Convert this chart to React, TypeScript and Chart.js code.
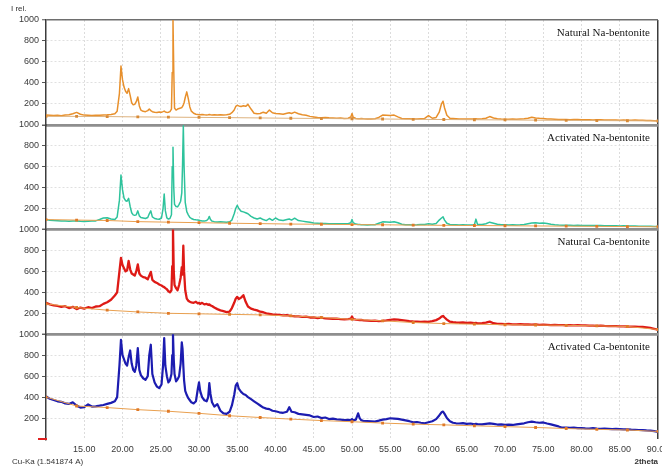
import { useEffect, useRef } from 'react';
import { Chart, registerables } from 'chart.js';

Chart.register(...registerables);

// 2θ positions (degrees) shared by all four diffractograms
const TWO_THETA = [
  10, 10.5, 11, 11.5, 12, 12.5, 13, 13.5, 14, 14.5,
  15, 15.5, 16, 16.5, 17, 17.5, 18, 18.5, 19, 19.3,
  19.6, 19.8, 20.0, 20.2, 20.4, 20.6, 20.8, 21.0, 21.2, 21.4,
  21.6, 21.8, 22.0, 22.2, 22.4, 22.7, 23.0, 23.3, 23.5, 23.7,
  23.9, 24.2, 24.5, 24.8, 25.1, 25.3, 25.45, 25.6, 25.8, 26.0,
  26.2, 26.4, 26.5, 26.6, 26.7, 26.8, 27.0, 27.2, 27.4, 27.6,
  27.75, 27.85, 27.95, 28.05, 28.2, 28.4, 28.6, 28.8, 29.0, 29.3,
  29.6, 29.85, 30.0, 30.15, 30.4, 30.7, 31.0, 31.2, 31.35, 31.5,
  31.7, 32.0, 32.4, 32.8, 33.2, 33.6, 34.0, 34.3, 34.6, 34.8,
  35.0, 35.2, 35.5, 35.8, 36.1, 36.4, 36.8, 37.2, 37.6, 38.0,
  38.4, 38.8, 39.2, 39.6, 40.0, 40.5, 41.0, 41.5, 41.8, 42.1,
  42.5, 43.0, 43.5, 44.0, 44.5, 45.0, 45.5, 46.0, 46.5, 47.0,
  47.5, 48.0, 48.5, 49.0, 49.5, 49.85, 50.0, 50.15, 50.5, 50.8,
  51.0, 51.2, 51.5, 52.0, 52.5, 53.0, 53.5, 54.0, 54.5, 55.0,
  55.5, 56.0, 56.5, 57.0, 57.5, 58.0, 58.5, 59.0, 59.5, 60.0,
  60.5, 61.0, 61.4, 61.7, 61.9, 62.1, 62.4, 62.8, 63.2, 63.6,
  64.0, 64.5, 65.0, 65.5, 66.0, 66.2, 66.4, 67.0, 67.5, 68.0,
  68.5, 69.0, 69.5, 70.0, 70.5, 71.0, 71.5, 72.0, 72.5, 73.0,
  73.5, 74.0, 74.5, 75.0, 75.5, 76.0, 76.5, 77.0, 77.5, 78.0,
  78.5, 79.0, 79.5, 80.0, 80.5, 81.0, 81.5, 82.0, 82.5, 83.0,
  83.5, 84.0, 84.5, 85.0, 85.5, 86.0, 86.5, 87.0, 87.5, 88.0,
  88.5, 89.0, 89.5, 90.0,
];

// Relative intensities (I rel.) at each 2θ position
const NA_NATURAL = [
  92, 90, 88, 90, 87, 92, 95, 105, 118, 100,
  92, 90, 88, 91, 90, 93, 95, 98, 105, 130,
  300, 560, 430, 360, 320, 300, 345, 280, 210, 190,
  195, 220, 265, 180, 140, 128, 125, 135, 150, 135,
  125, 120, 118, 122, 120, 125, 130, 122, 118, 120,
  125, 150, 500, 1000, 520, 160, 140, 150, 155, 160,
  165, 175, 190, 210, 260, 314, 250, 170, 130, 110,
  100, 98, 96, 95, 97, 95, 94, 96, 98, 95,
  94, 95, 92, 96, 94, 96, 100, 115, 140, 175,
  185, 180, 175, 182, 176, 195, 150, 110, 105, 108,
  120, 110, 140, 115, 108, 105, 100, 110, 115, 108,
  120, 105, 95, 90, 80, 75, 70, 68, 70, 66,
  65, 62, 64, 60, 62, 75, 107, 72, 60, 58,
  58, 60, 57, 56, 55, 58, 70, 92, 90, 88,
  92, 75, 60, 58, 57, 55, 56, 58, 60, 88,
  62, 70, 120, 200, 225, 160, 90, 62, 60, 58,
  56, 55, 54, 56, 55, 57, 55, 58, 62, 78,
  65, 58, 55, 53, 52, 54, 52, 55, 58, 62,
  72, 65, 62, 60, 56, 54, 52, 50, 50, 49,
  48, 50, 49, 48, 47, 48, 46, 47, 48, 46,
  45, 46, 45, 44, 45, 43, 44, 45, 42, 42,
  41, 40, 38, 36,
];

const NA_ACTIVATED = [
  95, 88, 85, 84, 82, 80, 78, 80, 82, 78,
  76, 78, 80, 82, 95, 110, 112, 100, 95, 120,
  280, 520, 380, 300, 275, 270, 297, 220, 160, 140,
  135, 140, 178, 130, 115, 110, 105, 115, 150, 178,
  120, 105, 100, 98, 110, 200, 338, 180, 110, 100,
  105, 140, 600, 785, 400, 240, 220, 216, 240, 270,
  350, 620, 990, 600, 260, 170, 140, 115, 105, 95,
  92, 90, 88, 85, 82, 80, 85, 100, 125, 95,
  80, 75, 72, 74, 72, 70, 74, 90, 150, 200,
  232, 200, 175, 168, 160, 150, 125, 110, 100, 110,
  95, 85, 105, 88, 110, 90, 85, 95, 100, 90,
  108, 85, 80, 75, 70, 62, 60, 58, 57, 56,
  55, 56, 55, 54, 56, 65, 96, 65, 52, 48,
  47, 46, 45, 44, 45, 46, 60, 73, 72, 70,
  74, 65, 50, 46, 45, 44, 45, 47, 48, 55,
  50, 58, 90, 110, 121, 90, 60, 48, 46, 45,
  44, 45, 43, 44, 46, 99, 50, 48, 55, 70,
  60, 50, 46, 45, 44, 46, 44, 45, 48, 55,
  62, 64, 60, 62, 58, 50, 45, 42, 41, 40,
  40, 39, 40, 38, 39, 38, 37, 38, 37, 36,
  36, 35, 36, 34, 35, 34, 33, 34, 32, 32,
  31, 30, 29, 28,
];

const CA_NATURAL = [
  300, 285, 275, 270, 262, 268, 250, 262, 240, 255,
  245, 258, 250, 265, 268, 290, 305, 330, 370, 400,
  600, 730, 660, 630, 600, 610, 700, 620, 580, 570,
  560, 600, 667, 580, 560, 545, 540, 525, 560, 596,
  520, 500, 490, 475, 465, 455, 450, 440, 430, 410,
  400, 420, 650, 1000, 600, 470, 440, 420, 470, 540,
  640, 570, 845, 600, 420, 340, 320, 310, 305, 300,
  310, 295, 300, 290, 300, 285, 290, 280, 285, 275,
  270, 255, 240, 228, 220, 212, 215, 250, 300, 340,
  357, 335, 350, 373, 310, 265, 245, 235, 228, 215,
  210, 200, 195, 190, 188, 185, 180, 182, 178, 175,
  172, 170, 165, 168, 160, 162, 155, 158, 152, 150,
  148, 150, 145, 142, 145, 148, 170, 145, 140, 138,
  136, 138, 132, 130, 128, 130, 126, 128, 132, 138,
  142, 140, 135, 130, 125, 122, 120, 118, 120, 118,
  125, 135, 150, 168, 175, 160, 140, 120, 115, 112,
  110, 112, 108, 110, 105, 108, 104, 106, 110, 120,
  105, 100, 98, 96, 98, 95, 94, 96, 93, 95,
  92, 94, 90, 92, 90, 88, 90, 87, 88, 86,
  86, 85, 87, 84, 85, 82, 83, 80, 81, 79,
  78, 77, 78, 75, 76, 74, 73, 72, 71, 70,
  66, 60, 52, 44,
];

const CA_ACTIVATED = [
  405, 385, 372, 360, 355, 340, 335, 350, 320, 300,
  305, 330, 310, 312, 318, 325, 335, 345, 360, 400,
  700, 947, 800, 760, 720, 700, 780, 845, 720, 660,
  640, 700, 868, 660, 610, 580, 565, 600, 800, 900,
  620, 540, 500, 485, 520, 700, 964, 700, 600, 540,
  560, 620, 800, 1000, 760, 620, 550, 570, 600, 720,
  922, 860, 700, 560, 460, 420, 390, 370, 350, 340,
  360, 480, 540, 460, 400, 370, 360, 400, 533, 430,
  350, 310, 333, 270, 245, 240, 260, 320, 420, 510,
  533, 480, 450, 430, 420, 400, 380, 360, 340, 320,
  300, 290, 285, 270, 265, 255, 250, 260, 303, 260,
  255, 240, 235, 230, 225, 210, 215, 200, 205, 190,
  195, 188, 185, 180, 182, 180, 190, 178, 185, 245,
  200, 180, 172, 170, 168, 166, 175, 185, 190, 198,
  195, 192, 185, 178, 170, 160, 162, 155, 150, 160,
  170, 190, 225, 255, 262, 240, 200, 170, 155, 150,
  148, 152, 144, 148, 140, 145, 142, 140, 145, 150,
  145, 138, 140, 135, 138, 134, 140, 145, 150, 160,
  166, 160, 155, 158, 148, 140, 130, 120, 108, 110,
  106, 108, 104, 105, 102, 100, 104, 100, 98, 99,
  97, 95, 96, 94, 92, 93, 90, 88, 86, 85,
  82, 80, 75, 68,
];

// Fitted background: anchor points every 4° of 2θ
const BACKGROUND_2THETA = [10, 14, 18, 22, 26, 30, 34, 38, 42, 46, 50, 54, 58, 62, 66, 70, 74, 78, 82, 86, 90];
const NA_NATURAL_BG = [80, 80, 78, 75, 73, 70, 68, 65, 62, 60, 57, 55, 52, 50, 48, 46, 44, 42, 40, 38, 36];
const NA_ACTIVATED_BG = [95, 90, 86, 75, 70, 65, 60, 56, 52, 50, 47, 45, 42, 40, 38, 36, 34, 32, 30, 28, 26];
const CA_NATURAL_BG = [290, 255, 230, 213, 200, 195, 190, 185, 175, 160, 142, 128, 112, 102, 96, 91, 88, 85, 80, 74, 45];
const CA_ACTIVATED_BG = [400, 315, 300, 280, 265, 245, 222, 205, 190, 176, 165, 152, 142, 135, 126, 118, 110, 100, 92, 86, 72];

const PANEL_TITLES = ['Natural Na-bentonite', 'Activated Na-bentonite', 'Natural Ca-bentonite', 'Activated Ca-bentonite'];
const Y_TITLE = 'I rel.';
const X_TITLE = '2theta';
const SOURCE_LABEL = 'Cu-Ka (1.541874 A)';

const SANS = 'Arial, "Liberation Sans", sans-serif';
const SERIF = '"Liberation Serif", "Times New Roman", serif';

const PANELS = [
  { id: 'yNaNat', title: PANEL_TITLES[0], counts: NA_NATURAL, bg: NA_NATURAL_BG, color: '#E8902C', bgLine: '#DDB27E', bgPoint: '#D88A36', width: 1.5, weight: 4 },
  { id: 'yNaAct', title: PANEL_TITLES[1], counts: NA_ACTIVATED, bg: NA_ACTIVATED_BG, color: '#2EC39C', bgLine: '#E9A050', bgPoint: '#E07A28', width: 1.5, weight: 3 },
  { id: 'yCaNat', title: PANEL_TITLES[2], counts: CA_NATURAL, bg: CA_NATURAL_BG, color: '#DE1A16', bgLine: '#E9A050', bgPoint: '#E07A28', width: 2.3, weight: 2 },
  { id: 'yCaAct', title: PANEL_TITLES[3], counts: CA_ACTIVATED, bg: CA_ACTIVATED_BG, color: '#1C1CB0', bgLine: '#E9A050', bgPoint: '#E07A28', width: 2.2, weight: 1 },
];

const BOTTOM_AXIS = 'yCaAct';
const TOP_AXIS = 'yNaNat';

function buildDatasets() {
  const sets: any[] = [];
  PANELS.forEach((p) => {
    sets.push({
      label: p.title + ' background',
      yAxisID: p.id,
      data: BACKGROUND_2THETA.map((x, i) => ({ x, y: p.bg[i] })),
      borderColor: p.bgLine,
      borderWidth: 1,
      pointStyle: 'rect',
      pointRadius: 2,
      pointBackgroundColor: p.bgPoint,
      pointBorderColor: p.bgPoint,
      pointBorderWidth: 0,
      tension: 0,
      order: 0,
    });
    sets.push({
      label: p.title,
      yAxisID: p.id,
      data: TWO_THETA.map((x, i) => ({ x, y: p.counts[i] })),
      borderColor: p.color,
      borderWidth: p.width,
      borderJoinStyle: 'round',
      pointRadius: 0,
      tension: 0,
      order: 1,
    });
  });
  return sets;
}

function yScale(p: (typeof PANELS)[number]) {
  const isBoundary = (v: number) => v === 0 || v === 1000;
  return {
    type: 'linear',
    position: 'left',
    stack: 'xrd',
    stackWeight: 1,
    weight: p.weight,
    min: 0,
    max: 1000,
    afterFit: (s: any) => {
      s.width = 46;
      s.paddingTop = 0;
      s.paddingBottom = 0;
    },
    ticks: {
      stepSize: 200,
      autoSkip: false,
      padding: 3,
      color: '#3a3a3a',
      font: { size: 9, family: SANS },
      callback: (v: any) => (Number(v) === 0 ? '' : String(v)),
    },
    grid: {
      color: (ctx: any) => {
        const v = ctx.tick ? ctx.tick.value : -1;
        if (p.id === BOTTOM_AXIS && v === 0) return 'rgba(0,0,0,0)';
        if (p.id === TOP_AXIS && v === 1000) return '#6e6e6e';
        return isBoundary(v) ? '#8e8e8e' : '#e0e0e0';
      },
      lineWidth: (ctx: any) => {
        const v = ctx.tick ? ctx.tick.value : -1;
        if (p.id === TOP_AXIS && v === 1000) return 1.5;
        return isBoundary(v) ? 2.5 : 1;
      },
      tickLength: 4,
      tickColor: '#555',
      tickWidth: 1,
    },
    border: {
      display: true,
      color: '#3c3c3c',
      width: 1.5,
      dash: (ctx: any) => (ctx.tick && !isBoundary(ctx.tick.value) ? [2, 2] : []),
    },
  };
}

const frameLabels = {
  id: 'frameLabels',
  afterDraw(chart: any) {
    const { ctx, chartArea, scales } = chart;
    ctx.save();
    ctx.fillStyle = '#333';
    ctx.textBaseline = 'middle';
    ctx.textAlign = 'left';
    ctx.font = '8px ' + SANS;
    ctx.fillText(Y_TITLE, 11, 9);
    ctx.fillText(SOURCE_LABEL, 12, 462);
    ctx.textAlign = 'right';
    ctx.font = 'bold 8px ' + SANS;
    ctx.fillText(X_TITLE, chart.width - 4, 462);

    ctx.fillStyle = '#151515';
    ctx.font = '11px ' + SERIF;
    PANELS.forEach((p) => {
      const s = scales[p.id];
      ctx.fillText(p.title, chartArea.right - 8, s.top + 13);
    });

    // red zero marker on the lowest axis
    const y0 = scales[BOTTOM_AXIS].getPixelForValue(0);
    ctx.strokeStyle = '#E02020';
    ctx.lineWidth = 2;
    ctx.beginPath();
    ctx.moveTo(chartArea.left - 8, y0);
    ctx.lineTo(chartArea.left + 1, y0);
    ctx.stroke();
    ctx.restore();
  },
};

export default function App() {
  const ref = useRef<HTMLCanvasElement>(null);

  useEffect(() => {
    if (!ref.current) return;
    const scales: any = {
      x: {
        type: 'linear',
        min: 10,
        max: 90,
        afterFit: (s: any) => {
          s.height = 29;
          s.paddingLeft = 0;
          s.paddingRight = 0;
        },
        ticks: {
          stepSize: 5,
          autoSkip: false,
          maxRotation: 0,
          padding: 5,
          color: '#3a3a3a',
          font: { size: 9, family: SANS },
          callback: (v: any) => (Number(v) === 10 ? '' : Number(v).toFixed(2)),
        },
        grid: {
          drawTicks: false,
          color: (ctx: any) => {
            const v = ctx.tick ? ctx.tick.value : -1;
            if (v === 10) return 'rgba(0,0,0,0)';
            return v === 90 ? '#3c3c3c' : '#dcdcdc';
          },
          lineWidth: (ctx: any) => (ctx.tick && ctx.tick.value === 90 ? 1.5 : 1),
        },
        border: {
          display: false,
          dash: (ctx: any) => (ctx.tick && ctx.tick.value === 90 ? [] : [2, 2]),
        },
      },
    };
    PANELS.forEach((p) => {
      scales[p.id] = yScale(p);
    });

    const chart = new Chart(ref.current, {
      type: 'line',
      data: { datasets: buildDatasets() },
      options: {
        responsive: false,
        animation: false,
        devicePixelRatio: 1,
        normalized: true,
        layout: { padding: { left: 0, right: 3, top: 20, bottom: 0 } },
        plugins: { legend: { display: false }, tooltip: { enabled: false } },
        scales,
      } as any,
      plugins: [frameLabels],
    });
    return () => chart.destroy();
  }, []);

  return (
    <div style={{ position: 'absolute', left: 0, top: 0, width: 662, height: 468, background: '#fff' }}>
      <canvas ref={ref} width={662} height={468} style={{ display: 'block' }} />
    </div>
  );
}
